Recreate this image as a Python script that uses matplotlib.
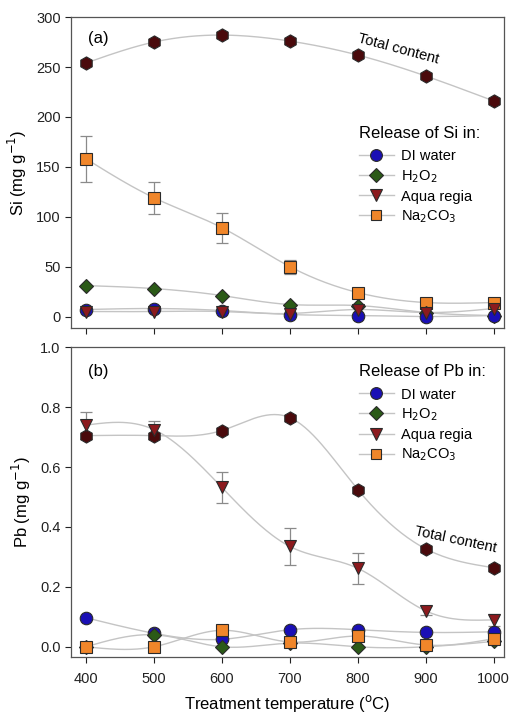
import numpy as np
import matplotlib
matplotlib.use("Agg")
import matplotlib.pyplot as plt
from matplotlib.lines import Line2D

plt.rcParams['font.family'] = ['Liberation Sans', 'DejaVu Sans']

temps = [400, 500, 600, 700, 800, 900, 1000]

# Si (mg/g)
si_total = [254, 275, 282, 276, 262, 241, 216]
si_di = [7, 8, 6, 2, 1, 0, 1]
si_h2o2 = [31, 28, 21, 12, 11, 4, 1]
si_aqua = [5, 5, 5, 3, 7, 4, 8]
si_na = [158, 119, 89, 50, 24, 14, 14]
si_na_err = [23, 16, 15, 7, 2, 2, 2]

# Pb (mg/g)
pb_total = [0.705, 0.705, 0.722, 0.765, 0.525, 0.327, 0.264]
pb_di = [0.097, 0.045, 0.025, 0.057, 0.057, 0.048, 0.05]
pb_h2o2 = [0.0, 0.04, 0.0, 0.012, 0.0, 0.0, 0.018]
pb_aqua = [0.74, 0.725, 0.532, 0.335, 0.262, 0.12, 0.09]
pb_aqua_err = [0.045, 0.03, 0.053, 0.062, 0.052, 0.015, 0.02]
pb_na = [0.0, 0.0, 0.055, 0.016, 0.036, 0.006, 0.027]

c_di = '#1a0fb5'
c_h2o2 = '#2b5a17'
c_aqua = '#8c1a1e'
c_na = '#f0862a'
c_tot = '#4a0a0c'
c_line = '#c4c4c4'


def spline(x, y, n=200):
    # natural cubic spline for the connecting curves
    x = np.asarray(x, float)
    y = np.asarray(y, float)
    k = len(x)
    h = np.diff(x)
    A = np.zeros((k, k))
    b = np.zeros(k)
    A[0, 0] = A[-1, -1] = 1
    for i in range(1, k - 1):
        A[i, i - 1] = h[i - 1]
        A[i, i] = 2 * (h[i - 1] + h[i])
        A[i, i + 1] = h[i]
        b[i] = 6 * ((y[i + 1] - y[i]) / h[i] - (y[i] - y[i - 1]) / h[i - 1])
    M = np.linalg.solve(A, b)
    xs = np.linspace(x[0], x[-1], n)
    idx = np.clip(np.searchsorted(x, xs) - 1, 0, k - 2)
    x0, x1 = x[idx], x[idx + 1]
    hh = x1 - x0
    t0 = x1 - xs
    t1 = xs - x0
    ys = (M[idx] * t0**3 + M[idx + 1] * t1**3) / (6 * hh) \
        + (y[idx] / hh - M[idx] * hh / 6) * t0 \
        + (y[idx + 1] / hh - M[idx + 1] * hh / 6) * t1
    return xs, ys


def series(ax, y, color, marker, ms, err=None, z=3):
    xs, ys = spline(temps, y)
    ax.plot(xs, ys, color=c_line, lw=1.0, zorder=1)
    if err is not None:
        ax.errorbar(temps, y, yerr=err, fmt='none', ecolor='#8a8a8a',
                    elinewidth=0.9, capsize=4, capthick=0.9, zorder=2)
    ax.plot(temps, y, ls='none', marker=marker, ms=ms, mfc=color,
            mec='#2a2a2a', mew=0.8, zorder=z)


def legend(ax, title, anchor):
    handles = [
        Line2D([], [], color=c_line, lw=1.0, marker='o', ms=8.5, mfc=c_di, mec='#2a2a2a', mew=0.8),
        Line2D([], [], color=c_line, lw=1.0, marker='D', ms=7.5, mfc=c_h2o2, mec='#2a2a2a', mew=0.8),
        Line2D([], [], color=c_line, lw=1.0, marker='v', ms=8.5, mfc=c_aqua, mec='#2a2a2a', mew=0.8),
        Line2D([], [], color=c_line, lw=1.0, marker='s', ms=7.5, mfc=c_na, mec='#2a2a2a', mew=0.8),
    ]
    labels = ['DI water', r'H$_2$O$_2$', 'Aqua regia', r'Na$_2$CO$_3$']
    leg = ax.legend(handles, labels, title=title, loc='upper left',
                    bbox_to_anchor=anchor, frameon=False, fontsize=10.5,
                    title_fontsize=12, handlelength=2.4, labelspacing=0.33,
                    handletextpad=0.5, borderaxespad=0, borderpad=0)
    leg._legend_box.align = 'left'
    leg._legend_box.sep = 6


fig = plt.figure(figsize=(5.11, 7.13), dpi=100)
ax1 = fig.add_axes([0.139, 0.540, 0.847, 0.436])
ax2 = fig.add_axes([0.139, 0.079, 0.847, 0.434])

series(ax1, si_total, c_tot, 'h', 9.5)
series(ax1, si_na, c_na, 's', 8, err=si_na_err)
series(ax1, si_h2o2, c_h2o2, 'D', 7.5)
series(ax1, si_di, c_di, 'o', 9)
series(ax1, si_aqua, c_aqua, 'v', 9, z=4)

series(ax2, pb_aqua, c_aqua, 'v', 9, err=pb_aqua_err, z=4)
series(ax2, pb_total, c_tot, 'h', 9.5)
series(ax2, pb_di, c_di, 'o', 9)
series(ax2, pb_h2o2, c_h2o2, 'D', 7.5)
series(ax2, pb_na, c_na, 's', 8, z=4)

for ax in (ax1, ax2):
    ax.set_xlim(378, 1015)
    ax.set_xticks(temps)
    ax.tick_params(direction='out', length=4, width=0.8, labelsize=10.5,
                   colors='#222222', top=False, right=False)
    ax.tick_params(axis='x', pad=7)
    for s in ax.spines.values():
        s.set_color('#555555')
        s.set_linewidth(0.9)

ax1.set_ylim(-11.5, 300)
ax1.set_yticks([0, 50, 100, 150, 200, 250, 300])
ax1.set_xticklabels([])
ax1.set_ylabel(r'Si (mg g$^{-1}$)', fontsize=12, labelpad=5)
ax1.text(0.04, 0.93, '(a)', transform=ax1.transAxes, fontsize=12, va='center')
ax1.text(860, 268, 'Total content', rotation=-15, fontsize=10.5, ha='center', va='center')
legend(ax1, 'Release of Si in:', (0.665, 0.65))

ax2.set_ylim(-0.033, 1.0)
ax2.set_yticks([0.0, 0.2, 0.4, 0.6, 0.8, 1.0])
ax2.set_yticklabels(['0.0', '0.2', '0.4', '0.6', '0.8', '1.0'])
ax2.set_ylabel(r'Pb (mg g$^{-1}$)', fontsize=12, labelpad=5)
ax2.set_xlabel(r'Treatment temperature ($^{\rm o}$C)', fontsize=12, labelpad=5)
ax2.text(0.04, 0.92, '(b)', transform=ax2.transAxes, fontsize=12, va='center')
ax2.text(944, 0.356, 'Total content', rotation=-12, fontsize=10.5, ha='center', va='center')
legend(ax2, 'Release of Pb in:', (0.665, 0.945))

fig.savefig('out.png', dpi=100)
